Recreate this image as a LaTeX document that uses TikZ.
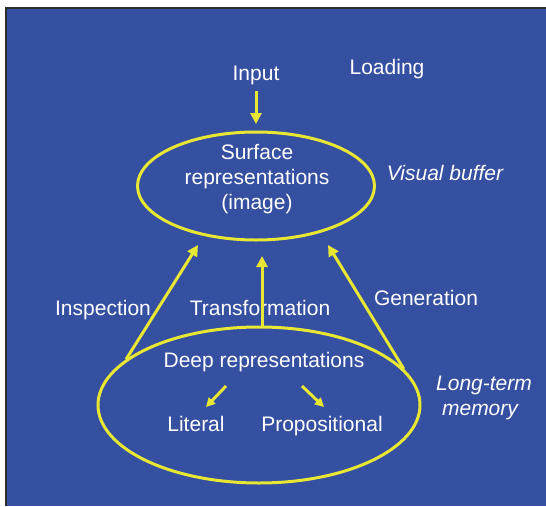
\documentclass[tikz,border=0pt]{standalone}
\usepackage{fontspec}
\setmainfont{Liberation Sans}
\usetikzlibrary{shapes.geometric,arrows.meta}
\definecolor{slide}{RGB}{53,79,161}
\definecolor{hilite}{RGB}{232,232,52}
\definecolor{frame}{RGB}{45,45,50}
\tikzset{
  lbl/.style={text=white,font=\fontsize{21}{25}\selectfont,align=center,inner sep=0pt},
  line/.style={lbl,text height=15pt,text depth=4.5pt},
  note/.style={line,font=\fontsize{21}{25}\selectfont\itshape},
  oval/.style={ellipse,draw=hilite,line width=3pt,inner sep=0pt},
  link/.style={draw=hilite,line width=3pt,-{Triangle[length=11pt,width=11pt]}},
  small/.style={draw=hilite,line width=3pt,-{Triangle[length=9pt,width=9pt]}}
}
\begin{document}
\begin{tikzpicture}[x=1pt,y=-1pt]
  \useasboundingbox (0,0) rectangle (546,506);
  \fill[white] (0,0) rectangle (546,506);
  \fill[frame] (5,7) rectangle (546,506);
  \fill[slide] (7,9) rectangle (546,506);

  % storage structures
  \node[oval,minimum width=237pt,minimum height=108pt] (surf) at (256,186) {};
  \node[oval,minimum width=322pt,minimum height=156pt] (deep) at (259,405) {};

  % texts
  \node[line] (input) at (256,75) {Input};
  \node[line] (load) at (387,69) {Loading};
  \node[lbl] (surftxt) at (257,179) {Surface\\representations\\(image)};
  \node[note] (vis) at (445,175) {Visual buffer};
  \node[line] (insp) at (103,310) {Inspection};
  \node[line] (trans) at (260,310) {Transformation};
  \node[line] (gen) at (426,300) {Generation};
  \node[line] (deeptxt) at (264,362) {Deep representations};
  \node[line] (lit) at (196,426) {Literal};
  \node[line] (prop) at (322,426) {Propositional};
  \node[note,text height=,text depth=] (ltm) at (484,398) {Long-term\\\hspace*{-8pt}memory};

  % arrow ends
  \coordinate (inTip) at (256,124);
  \coordinate (inspTip) at (198,245);
  \coordinate (transTip) at (262,256);
  \coordinate (genTip) at (328,245);
  \coordinate (litFrom) at (226,386);
  \coordinate (litTip) at (206,407);
  \coordinate (propFrom) at (302,386);
  \coordinate (propTip) at (324,407);

  % processes
  \draw[link] (input.south) ++(0,6) -- (inTip);
  \draw[link] (deep.161) -- (inspTip);
  \draw[link] (deep.north -| transTip) -- (transTip);
  \draw[link] (deep.14) -- (genTip);
  \draw[small] (litFrom) -- (litTip);
  \draw[small] (propFrom) -- (propTip);
\end{tikzpicture}
\end{document}
